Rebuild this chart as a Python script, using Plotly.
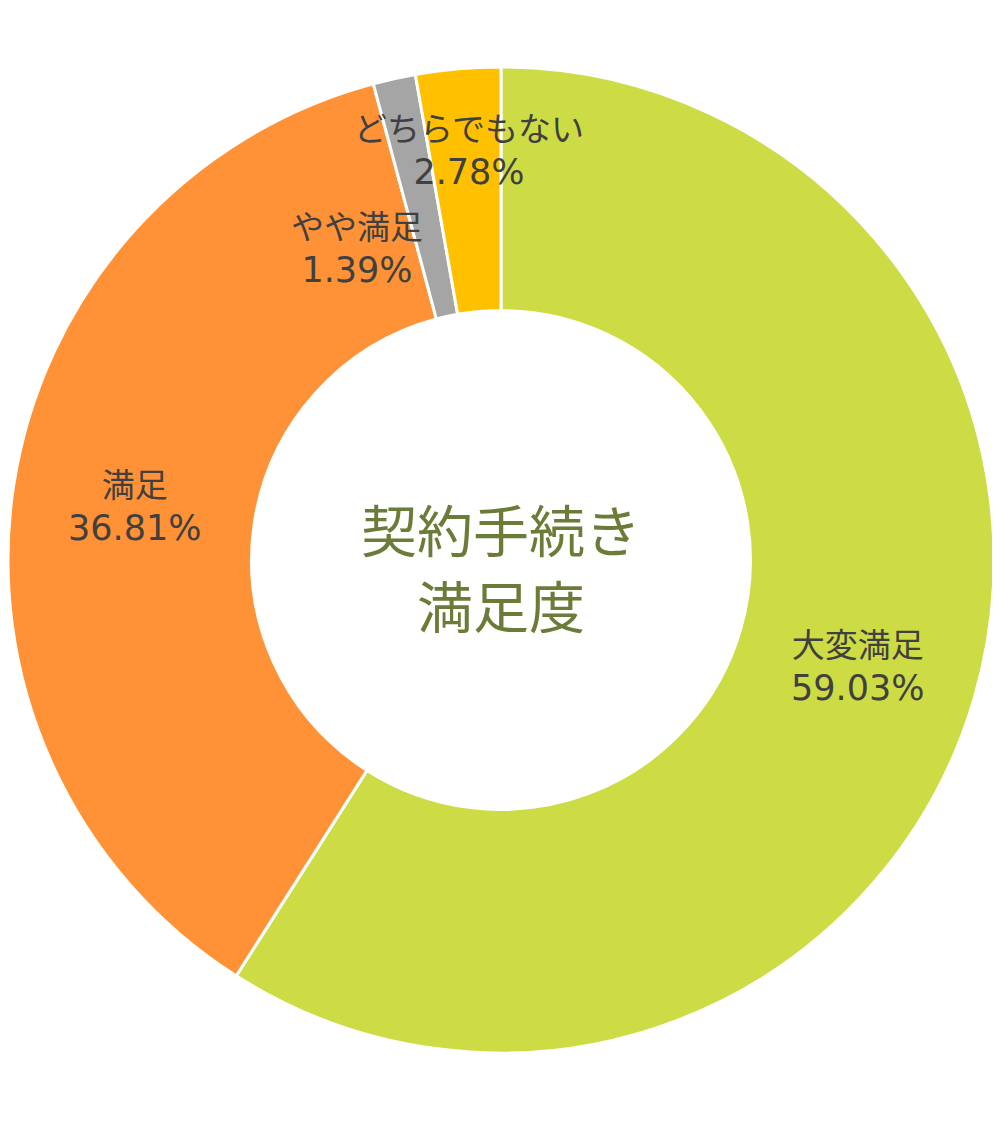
import math
import plotly.graph_objects as go

categories = ["大変満足", "満足", "やや満足", "どちらでもない"]
values = [59.03, 36.81, 1.39, 2.78]
colors = ["#CDDC45", "#FF9236", "#A5A5A5", "#FFC000"]
center_title_lines = ["契約手続き", "満足度"]

# label placement tweaks (pixels) for crowded small slices
label_offsets = [(0, 0), (0, 0), (-64, 48), (0, -43)]

W, H = 992, 1116          # figure size (page adds 8px body margin)
cx, cy = 493, 552         # pie centre in figure pixels
r_out = 493
hole = 0.506
r_mid = (r_out + r_out * hole) / 2

dom_x = [(cx - r_out) / W, (cx + r_out) / W]
dom_y = [1 - (cy + r_out) / H, 1 - (cy - r_out) / H]

fig = go.Figure(go.Pie(
    labels=categories,
    values=values,
    hole=hole,
    sort=False,
    direction="clockwise",
    rotation=0,
    domain=dict(x=dom_x, y=dom_y),
    marker=dict(colors=colors, line=dict(color="white", width=3)),
    textinfo="none",
    hoverinfo="label+percent",
    showlegend=False,
))

total = sum(values)
cum = 0
annotations = []
for cat, v, (dx, dy) in zip(categories, values, label_offsets):
    mid = (cum + v / 2) / total * 2 * math.pi
    cum += v
    px = cx + r_mid * math.sin(mid) + dx
    py = cy - r_mid * math.cos(mid) + dy
    annotations.append(dict(
        x=px / W, y=1 - py / H, xref="paper", yref="paper",
        xanchor="center", yanchor="middle", showarrow=False,
        text=(f"{cat}<br><span style='font-family:DejaVu Sans;font-size:35px'>"
              f"{v:.2f}%</span>"),
        font=dict(family="Noto Sans CJK JP", size=33, color="#404040"),
    ))

for i, line in enumerate(center_title_lines):
    ly = cy - 33 + i * 76
    annotations.append(dict(
        x=cx / W, y=1 - ly / H, xref="paper", yref="paper",
        xanchor="center", yanchor="middle", showarrow=False,
        text=line,
        font=dict(family="Noto Sans CJK JP", size=56, color="#6B7C38"),
    ))

fig.update_layout(
    width=W, height=H,
    margin=dict(l=0, r=0, t=0, b=0),
    paper_bgcolor="white",
    plot_bgcolor="white",
    annotations=annotations,
)

fig.write_html("out.html")
